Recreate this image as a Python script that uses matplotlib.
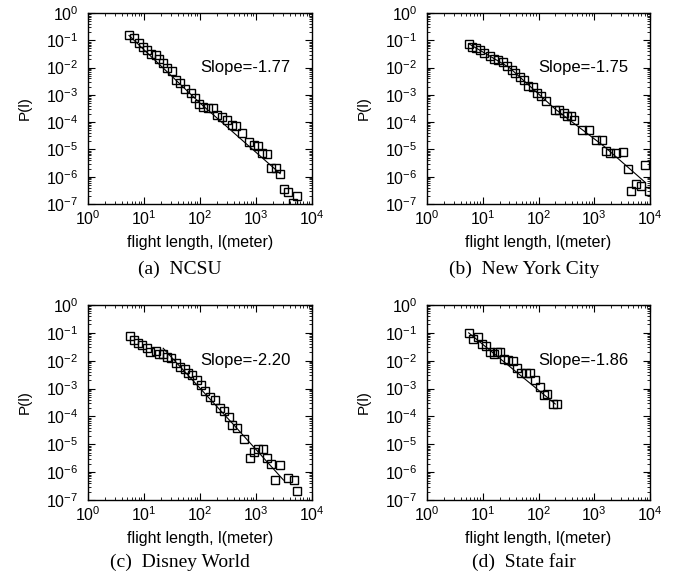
import matplotlib.pyplot as plt
import matplotlib.ticker as mticker
import numpy as np

plt.rcParams['font.family'] = ['Liberation Sans', 'DejaVu Sans']
plt.rcParams['mathtext.fontset'] = 'custom'
plt.rcParams['mathtext.rm'] = 'Liberation Sans'
plt.rcParams['mathtext.it'] = 'Liberation Sans:italic'
plt.rcParams['axes.unicode_minus'] = False

# (a) NCSU
ncsu_x = [5.4, 6.6, 8.1, 9.7, 11.1, 13.1, 16.3, 18.2, 22, 26, 31, 38, 44, 55, 68, 81, 97,
          115, 141, 173, 199, 245, 300, 370, 436, 560, 756, 927, 1100, 1300, 1560, 1850,
          2270, 2700, 3200, 3800, 5500, 4500]
ncsu_y = [0.16, 0.12, 0.08, 0.057, 0.043, 0.032, 0.028, 0.020, 0.015, 0.0098, 0.0074,
          0.0036, 0.0027, 0.0016, 0.0012, 7.8e-4, 4.5e-4, 3.6e-4, 3.2e-4, 3.2e-4, 1.9e-4,
          1.6e-4, 1.2e-4, 7.8e-5, 7.1e-5, 4.1e-5, 1.9e-5, 1.4e-5, 1.3e-5, 7.5e-6, 6.7e-6,
          2.1e-6, 2.1e-6, 1.3e-6, 3.5e-7, 2.8e-7, 1.9e-7, 1.1e-7]
ncsu_fit_x = [5.4, 100, 2700]
ncsu_fit_y = [0.15, 5.0e-4, 1.3e-6]

# (b) New York City
nyc_x = [5.6, 6.4, 7.7, 9.0, 10.7, 13.3, 16, 19, 23.5, 27, 33, 38, 46, 54, 66, 79, 93,
         110, 137, 200, 238, 289, 330, 380, 437, 600, 790, 1080, 1350, 1620, 1920, 2450,
         3240, 3990, 8150, 5600, 6800, 4600, 9700]
nyc_y = [0.075, 0.057, 0.050, 0.043, 0.034, 0.026, 0.021, 0.019, 0.016, 0.011, 0.0080,
         0.0064, 0.0046, 0.0036, 0.0021, 0.0019, 0.0012, 8.9e-4, 5.9e-4, 2.9e-4, 2.7e-4,
         2.1e-4, 1.7e-4, 1.7e-4, 1.2e-4, 5.1e-5, 5.1e-5, 2.3e-5, 2.3e-5, 8.7e-6, 7.6e-6,
         7.6e-6, 8.2e-6, 1.9e-6, 2.8e-6, 5.2e-7, 4.6e-7, 3.0e-7, 3.0e-7]
nyc_fit_x = [5.6, 30, 200, 1500, 8000]
nyc_fit_y = [0.075, 0.010, 3.0e-4, 1.3e-5, 6.5e-7]

# (c) Disney World
disney_x = [5.6, 6.6, 7.9, 9.4, 11.1, 13, 16.7, 18.7, 22, 26, 30, 37, 44, 54, 62, 71, 87,
            103, 123, 151, 185, 228, 269, 323, 371, 454, 620, 767, 906, 1100, 1320, 1560,
            1850, 2700, 2200, 3800, 4700, 5500]
disney_y = [0.077, 0.055, 0.042, 0.037, 0.028, 0.021, 0.022, 0.017, 0.018, 0.014, 0.013,
            0.0085, 0.0061, 0.0049, 0.0035, 0.0031, 0.0020, 0.0013, 8.1e-4, 5.1e-4, 3.9e-4,
            2.0e-4, 1.6e-4, 9.8e-5, 4.9e-5, 3.7e-5, 1.5e-5, 3.3e-6, 5.5e-6, 6.6e-6, 6.6e-6,
            3.1e-6, 2.0e-6, 1.8e-6, 5.2e-7, 6.0e-7, 5.2e-7, 2.1e-7]
disney_fit_x = [22, 400, 3100]
disney_fit_y = [0.028, 5.0e-5, 5.2e-7]

# (d) State fair
fair_x = [5.6, 6.7, 8.1, 9.7, 11.5, 13.6, 16.1, 17.8, 20.5, 23.6, 28, 34.5, 41, 48, 60, 71,
          87, 107, 141, 123, 180, 213]
fair_y = [0.10, 0.058, 0.069, 0.040, 0.033, 0.021, 0.018, 0.020, 0.020, 0.012, 0.011,
          0.0096, 0.0055, 0.0035, 0.0035, 0.0035, 0.0020, 0.0011, 6.6e-4, 5.7e-4, 2.7e-4,
          2.7e-4]
fair_fit_x = [5.6, 200]
fair_fit_y = [0.10, 2.8e-4]

slopes = ["Slope=-1.77", "Slope=-1.75", "Slope=-2.20", "Slope=-1.86"]
captions = ["(a)  NCSU", "(b)  New York City", "(c)  Disney World", "(d)  State fair"]

W, H = 685, 583
fig = plt.figure(figsize=(W / 100, H / 100), dpi=100)

# axes boxes in pixels: left, top, right, bottom
boxes = [(88, 13, 312, 204), (427, 13, 650, 204), (88, 305, 312, 500), (427, 305, 650, 500)]
caption_pos = [(180, 269), (524, 269), (180, 562), (524, 562)]

datasets = [(ncsu_x, ncsu_y, ncsu_fit_x, ncsu_fit_y),
            (nyc_x, nyc_y, nyc_fit_x, nyc_fit_y),
            (disney_x, disney_y, disney_fit_x, disney_fit_y),
            (fair_x, fair_y, fair_fit_x, fair_fit_y)]

for i, (x, y, fx, fy) in enumerate(datasets):
    l, t, r, b = boxes[i]
    ax = fig.add_axes([l / W, 1 - b / H, (r - l) / W, (b - t) / H])
    ax.plot(x, y, 's', mfc='none', mec='black', ms=5.5, mew=1.0)
    ax.plot(fx, fy, '-', color='black', lw=0.8)
    ax.set_xscale('log')
    ax.set_yscale('log')
    ax.set_xlim(1, 1e4)
    ax.set_ylim(1e-7, 1)
    ax.set_xticks([1, 10, 100, 1000, 10000])
    ax.set_yticks([1e-7, 1e-6, 1e-5, 1e-4, 1e-3, 1e-2, 1e-1, 1])
    minor = mticker.LogLocator(base=10, subs=np.arange(2, 10), numticks=30)
    ax.xaxis.set_minor_locator(minor)
    ax.yaxis.set_minor_locator(mticker.LogLocator(base=10, subs=np.arange(2, 10), numticks=30))
    ax.xaxis.set_minor_formatter(mticker.NullFormatter())
    ax.yaxis.set_minor_formatter(mticker.NullFormatter())
    ax.tick_params(which='both', direction='in', top=True, right=True, labelsize=11.5)
    ax.tick_params(axis='x', pad=4)
    ax.tick_params(axis='y', pad=7)
    ax.tick_params(which='major', length=5, width=0.8)
    ax.tick_params(which='minor', length=2.5, width=0.6)
    for s in ax.spines.values():
        s.set_linewidth(1.0)
    ax.text(100, 1e-2, slopes[i], ha='left', va='center', fontsize=12)
    ax.set_xlabel("flight length, l(meter)", fontsize=11.5)
    ax.set_ylabel("P(l)", fontsize=11)
    ax.xaxis.set_label_coords(0.5, -31 / (b - t))
    ax.yaxis.set_label_coords(-56 / (r - l), 0.5)
    cx, cy = caption_pos[i]
    fig.text(cx / W, 1 - cy / H, captions[i], ha='center', va='center', fontsize=14,
             family='Liberation Serif')

fig.savefig("out.png", dpi=100)
